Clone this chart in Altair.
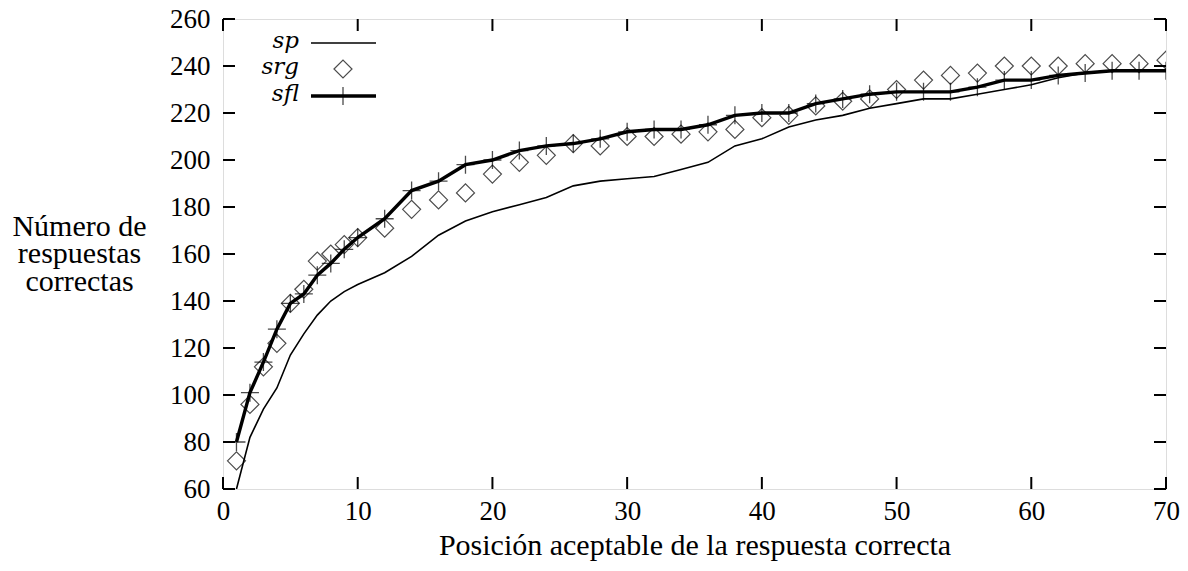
import altair as alt
import pandas as pd

# x positions (acceptable position of the correct answer)
pos = [1, 2, 3, 4, 5, 6, 7, 8, 9, 10, 12, 14, 16, 18, 20, 22, 24, 26, 28, 30,
       32, 34, 36, 38, 40, 42, 44, 46, 48, 50, 52, 54, 56, 58, 60, 62, 64, 66, 68, 70]
sp = [60, 82, 94, 103, 117, 126, 134, 140, 144, 147, 152, 159, 168, 174, 178, 181, 184, 189, 191, 192,
      193, 196, 199, 206, 209, 214, 217, 219, 222, 224, 226, 226, 228, 230, 232, 235, 237, 238, 238, 238]
srg = [72, 96, 112, 122, 139, 145, 157, 160, 164, 167, 171, 179, 183, 186, 194, 199, 202, 207, 206, 210,
       210, 211, 212, 213, 218, 219, 223, 225, 226, 230, 234, 236, 237, 240, 240, 240, 241, 241, 241, 242.5]
sfl = [80, 101, 114, 128, 139, 143, 151, 156, 162, 167, 175, 187, 191, 198, 200, 204, 206, 207, 209, 212,
       213, 213, 215, 219, 220, 220, 224, 226, 228, 229, 229, 229, 231, 234, 234, 236, 237, 238, 238, 238]

x_ticks = [0, 10, 20, 30, 40, 50, 60, 70]
y_ticks = [60, 80, 100, 120, 140, 160, 180, 200, 220, 240, 260]

x_title = "Posición aceptable de la respuesta correcta"
y_title = ["Número de", "respuestas", "correctas"]
legend_labels = ["sp", "srg", "sfl"]

W, H = 943, 470
FONT = "Liberation Serif"
FS = 27      # tick labels
TFS = 30     # axis titles
TL = 12      # tick length

df = pd.DataFrame({"x": pos, "sp": sp, "srg": srg, "sfl": sfl})
xt = pd.DataFrame({"t": x_ticks})
yt = pd.DataFrame({"t": y_ticks})

xs = alt.Scale(domain=[0, 70], nice=False, zero=False)
ys = alt.Scale(domain=[60, 260], nice=False, zero=False)

X_AX = alt.Axis(
    title=x_title, values=x_ticks, tickSize=0, domain=False, grid=False,
    labelFont=FONT, labelFontSize=FS, labelColor="black", labelPadding=9,
    titleFont=FONT, titleFontSize=TFS, titleFontWeight="normal", titleColor="black",
    titlePadding=6, labelFlush=False)
Y_AX = alt.Axis(
    title=y_title, values=y_ticks, tickSize=0, domain=False, grid=False,
    labelFont=FONT, labelFontSize=FS, labelColor="black", labelPadding=13,
    titleFont=FONT, titleFontSize=TFS, titleFontWeight="normal", titleColor="black",
    titleAngle=0, titleAlign="center", titleBaseline="alphabetic", titleX=-144, titleY=216,
    titleLineHeight=27.5, labelFlush=False)


def X(field):
    return alt.X(field, scale=xs, axis=X_AX)


def Y(field):
    return alt.Y(field, scale=ys, axis=Y_AX)


base = alt.Chart(df)

sp_line = base.mark_line(color="black", strokeWidth=1.6, clip=True).encode(
    x=X("x:Q"), y=Y("sp:Q"))

srg_pts = base.mark_point(shape="diamond", size=324, filled=False, color="black",
                          strokeWidth=1.2, clip=True).encode(
    x=X("x:Q"), y=Y("srg:Q"))

sfl_line = base.mark_line(color="black", strokeWidth=3.4, clip=True).encode(
    x=X("x:Q"), y=Y("sfl:Q"))

PLUS = "M-1,0L1,0M0,-1L0,1"
sfl_pts = base.mark_point(shape=PLUS, size=324, filled=False, color="black",
                          strokeWidth=1.3, clip=True).encode(
    x=X("x:Q"), y=Y("sfl:Q"))

tick_style = dict(color="black", strokeWidth=2)
bottom_t = alt.Chart(xt).mark_rule(**tick_style).encode(
    x=X("t:Q"), y=alt.value(H), y2=alt.value(H - TL))
top_t = alt.Chart(xt).mark_rule(**tick_style).encode(
    x=X("t:Q"), y=alt.value(0), y2=alt.value(TL))
left_t = alt.Chart(yt).mark_rule(**tick_style).encode(
    y=Y("t:Q"), x=alt.value(0), x2=alt.value(TL))
right_t = alt.Chart(yt).mark_rule(**tick_style).encode(
    y=Y("t:Q"), x=alt.value(W - TL), x2=alt.value(W))

# legend (top-left, inside the frame)
LX_TEXT, LX0, LX1, LXS = 76, 88, 153, 120
LY = [24, 50, 77]
one = pd.DataFrame({"a": [0]})


def leg_text(label, y):
    return alt.Chart(one).mark_text(
        font="DejaVu Serif", fontSize=23, fontStyle="italic", align="right",
        baseline="middle", color="black", dy=-2).encode(
        x=alt.value(LX_TEXT), y=alt.value(y), text=alt.value(label))


leg_sp_line = alt.Chart(one).mark_rule(color="black", strokeWidth=1.6).encode(
    x=alt.value(LX0), x2=alt.value(LX1), y=alt.value(LY[0]))
leg_srg_pt = alt.Chart(one).mark_point(shape="diamond", size=324, filled=False, color="black",
                                       strokeWidth=1.2).encode(
    x=alt.value(LXS), y=alt.value(LY[1]))
leg_sfl_line = alt.Chart(one).mark_rule(color="black", strokeWidth=3.4).encode(
    x=alt.value(LX0), x2=alt.value(LX1), y=alt.value(LY[2]))
leg_sfl_pt = alt.Chart(one).mark_point(shape=PLUS, size=324, filled=False, color="black",
                                       strokeWidth=1.3).encode(
    x=alt.value(LXS), y=alt.value(LY[2]))

chart = alt.layer(
    sp_line, srg_pts, sfl_line, sfl_pts,
    bottom_t, top_t, left_t, right_t,
    leg_text(legend_labels[0], LY[0]), leg_text(legend_labels[1], LY[1]),
    leg_text(legend_labels[2], LY[2]),
    leg_sp_line, leg_srg_pt, leg_sfl_line, leg_sfl_pt,
).properties(
    width=W, height=H,
    autosize=alt.AutoSizeParams(type="none"),
    padding={"left": 215, "top": 11, "right": 14, "bottom": 74},
).configure_view(
    stroke="black", strokeWidth=2.5
).configure(background="white")

chart.save("out.html", embed_options={"renderer": "svg", "actions": False})
